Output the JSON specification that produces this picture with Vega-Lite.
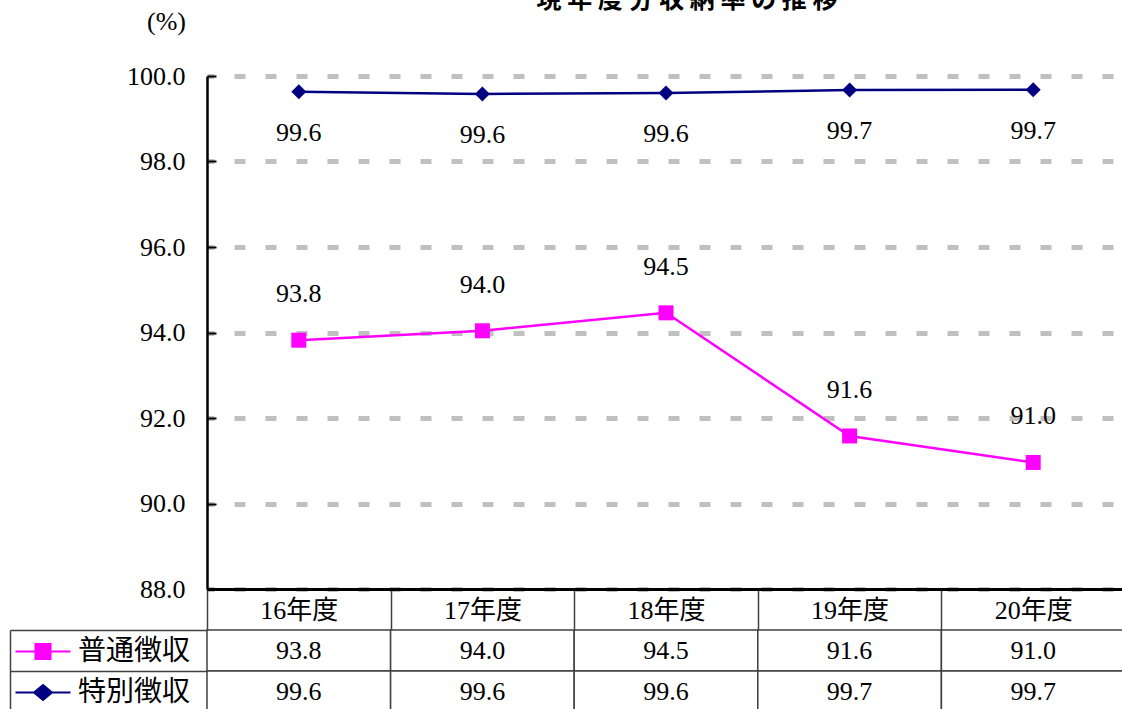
{
  "$schema": "https://vega.github.io/schema/vega-lite/v6.json",
  "padding": {"left": 9, "top": -12, "right": 0, "bottom": 0},
  "background": "white",
  "config": {"view": {"stroke": null}, "font": "Liberation Serif, Noto Sans CJK JP"},
  "datasets": {
    "main": [
      {"year": "16年度", "series": "普通徴収", "value": 93.82},
      {"year": "17年度", "series": "普通徴収", "value": 94.04},
      {"year": "18年度", "series": "普通徴収", "value": 94.46},
      {"year": "19年度", "series": "普通徴収", "value": 91.58},
      {"year": "20年度", "series": "普通徴収", "value": 90.96},
      {"year": "16年度", "series": "特別徴収", "value": 99.63},
      {"year": "17年度", "series": "特別徴収", "value": 99.58},
      {"year": "18年度", "series": "特別徴収", "value": 99.6},
      {"year": "19年度", "series": "特別徴収", "value": 99.67},
      {"year": "20年度", "series": "特別徴収", "value": 99.68}
    ]
  },
  "bounds": "flush",
  "spacing": 41,
  "vconcat": [
    {
      "width": 918,
      "height": 513,
      "data": {"name": "main"},
      "title": {"text": "現 年 度 分 収 納 率 の 推 移", "font": "Noto Sans CJK JP", "fontSize": 25, "fontWeight": "bold", "frame": "group", "anchor": "middle", "offset": -5, "dx": 21, "color": "black"},
      "encoding": {
        "x": {"field": "year", "type": "nominal", "sort": null, "scale": {"type": "band", "paddingInner": 0, "paddingOuter": 0},
          "axis": {"title": null, "labelAngle": 0, "labelFontSize": 26, "labelColor": "black", "labelFont": "Liberation Serif, Noto Sans CJK JP", "labelPadding": -20, "labelBaseline": "middle", "domainColor": "black", "domainWidth": 3, "tickColor": "#404040", "tickWidth": 1.5, "tickSize": 41, "tickBand": "extent", "grid": false}},
        "y": {"field": "value", "type": "quantitative", "scale": {"domain": [88, 100], "nice": false, "zero": false},
          "axis": {"values": [88, 90, 92, 94, 96, 98, 100], "format": ".1f", "title": "(%)", "titleAngle": 0, "titleX": -41, "titleY": -55, "titleAlign": "center", "titleBaseline": "middle", "titleFontSize": 26, "titleFontWeight": "normal", "titleFont": "Liberation Serif", "titleColor": "black", "labelFontSize": 26, "labelColor": "black", "labelFont": "Liberation Serif", "labelPadding": 31, "labelBaseline": "middle", "labelOverlap": false, "domainColor": "black", "domainWidth": 2.5, "tickColor": "black", "tickWidth": 2, "tickSize": -9, "grid": true, "gridColor": "#c0c0c0", "gridWidth": 5, "gridDash": [11, 20], "gridDashOffset": 4}}
      },
      "layer": [
        {"mark": {"type": "line", "strokeWidth": 2.5},
          "encoding": {"color": {"field": "series", "type": "nominal", "scale": {"domain": ["普通徴収", "特別徴収"], "range": ["#ff00ff", "#000080"]},
            "legend": {"values": ["普通徴収"], "orient": "none", "legendX": -178, "legendY": 561.5, "title": null, "padding": 0, "labelFontSize": 28, "labelFont": "Noto Sans CJK JP", "labelColor": "black", "labelOffset": 21, "labelBaseline": "middle", "symbolSize": 256, "symbolStrokeWidth": 2, "symbolFillColor": "#ff00ff", "symbolOpacity": 1,
              "symbolType": "M-3.44,0H3.44M-0.94,-0.94H0.94V0.94H-0.94Z"}}}},
        {"transform": [{"filter": "datum.series === '普通徴収'"}],
          "mark": {"type": "point", "shape": "square", "filled": true, "size": 225, "opacity": 1, "color": "#ff00ff"}},
        {"transform": [{"filter": "datum.series === '特別徴収'"}],
          "mark": {"type": "point", "shape": "diamond", "filled": true, "size": 225, "opacity": 1},
          "encoding": {"fill": {"field": "series", "type": "nominal", "scale": {"domain": ["特別徴収", "普通徴収"], "range": ["#000080", "#ff00ff"]},
            "legend": {"values": ["特別徴収"], "orient": "none", "legendX": -178, "legendY": 602.5, "title": null, "padding": 0, "labelFontSize": 28, "labelFont": "Noto Sans CJK JP", "labelColor": "black", "labelOffset": 21, "labelBaseline": "middle", "symbolSize": 256, "symbolStrokeWidth": 2, "symbolStrokeColor": "#000080", "symbolOpacity": 1,
              "symbolType": "M-3.44,0H3.44M0,-0.94L1.12,0L0,0.94L-1.12,0Z"}}}},
        {"transform": [{"filter": "datum.series === '普通徴収'"}],
          "mark": {"type": "text", "fontSize": 26, "dy": -46, "font": "Liberation Serif", "color": "black"},
          "encoding": {"text": {"field": "value", "format": ".1f"}}},
        {"transform": [{"filter": "datum.series === '特別徴収'"}],
          "mark": {"type": "text", "fontSize": 26, "dy": 41, "font": "Liberation Serif", "color": "black"},
          "encoding": {"text": {"field": "value", "format": ".1f"}}}
      ]
    },
    {
      "width": 918,
      "height": 82,
      "data": {"name": "main"},
      "encoding": {
        "x": {"field": "year", "type": "nominal", "sort": null, "scale": {"type": "band", "paddingInner": 0, "paddingOuter": 0}, "axis": null},
        "y": {"field": "series", "type": "nominal", "scale": {"type": "band", "paddingInner": 0, "paddingOuter": 0, "domain": ["普通徴収", "特別徴収"]},
          "axis": {"orient": "left", "offset": 197, "title": null, "labels": false, "domainColor": "#404040", "domainWidth": 1.5, "tickColor": "#404040", "tickWidth": 1.5, "tickSize": -197, "tickBand": "extent", "grid": false}}
      },
      "layer": [
        {"mark": {"type": "rect", "fill": "white", "stroke": "#404040", "strokeWidth": 1.5}},
        {"mark": {"type": "text", "fontSize": 26, "color": "black", "font": "Liberation Serif"},
          "encoding": {"text": {"field": "value", "format": ".1f"}}}
      ]
    }
  ],
  "resolve": {"scale": {"color": "independent", "fill": "independent"}, "legend": {"color": "independent", "fill": "independent"}}
}
